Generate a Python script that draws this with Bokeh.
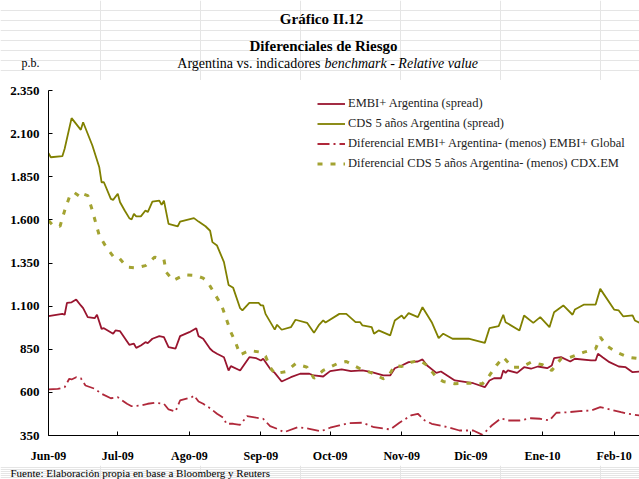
from datetime import date
from bokeh.plotting import figure
from bokeh.layouts import column
from bokeh.models import Label, Legend, LegendItem, FixedTicker, Range1d
from bokeh.embed import file_html
from bokeh.resources import INLINE

# ---------------- data (day offset from 1 Jun 2009, value in p.b.) ----------------
start = date(2009, 6, 1)

embi_days = [0, 6, 7, 8, 10, 12, 14, 15, 17, 20, 21, 23, 24, 28, 29, 31, 35, 37, 38, 40, 42, 43, 45, 48, 50, 52, 55, 57,
             61, 64, 65, 67, 70, 71, 73, 76, 78, 79, 83, 87, 90, 92, 93, 96, 98, 101, 105, 109, 113, 115, 119, 122, 127,
             131, 136, 140, 145, 148, 150, 153, 156, 160, 162, 164, 168, 170, 176, 181, 184, 189, 191, 193, 196, 197,
             198, 199, 203, 206, 209, 212, 216, 218, 219, 222, 226, 228, 235, 237, 238, 240, 243, 247, 250, 253, 256]
embi_vals = [1042, 1055, 1050, 1119, 1122, 1138, 1104, 1088, 1036, 1030, 1050, 968, 972, 940, 959, 955, 876, 882, 858,
             872, 891, 886, 911, 926, 920, 862, 853, 926, 949, 972, 926, 911, 853, 840, 824, 804, 727, 752, 727, 804,
             798, 785, 795, 737, 713, 663, 688, 708, 708, 698, 692, 723, 733, 723, 727, 717, 698, 698, 740, 756, 775,
             779, 791, 756, 713, 721, 669, 659, 653, 630, 669, 682, 682, 727, 713, 727, 713, 746, 737, 750, 740, 756,
             798, 804, 779, 795, 785, 785, 824, 804, 775, 750, 746, 717, 721]

cds_days = [0, 1, 6, 7, 10, 14, 15, 19, 22, 23, 24, 27, 28, 30, 31, 33, 35, 36, 37, 38, 40, 42, 43, 45, 48, 49, 50, 52,
            56, 57, 63, 65, 68, 70, 71, 73, 76, 78, 80, 83, 84, 87, 91, 92, 93, 94, 98, 99, 101, 105, 107, 112, 115,
            117, 119, 120, 126, 129, 133, 135, 136, 140, 141, 143, 148, 150, 153, 154, 156, 160, 162, 166, 169, 171,
            175, 182, 184, 189, 191, 195, 197, 198, 204, 206, 210, 213, 217, 219, 223, 227, 228, 232, 237, 239, 245,
            247, 249, 253, 254, 256]
cds_vals = [1986, 1963, 1969, 2012, 2190, 2122, 2166, 2031, 1905, 1818, 1818, 1722, 1716, 1751, 1702, 1654, 1610, 1602,
            1635, 1620, 1620, 1654, 1645, 1706, 1712, 1687, 1712, 1577, 1563, 1590, 1610, 1590, 1563, 1537, 1471, 1451,
            1355, 1223, 1206, 1088, 1075, 1119, 1119, 1104, 1104, 1055, 964, 992, 963, 978, 1021, 1003, 945, 988, 1017,
            1005, 1055, 1055, 1007, 1007, 988, 978, 940, 959, 930, 1017, 1046, 1027, 1059, 1036, 1094, 1007, 914, 940,
            911, 911, 905, 887, 972, 984, 1050, 1007, 959, 1046, 1003, 1036, 978, 1065, 1104, 1050, 1080, 1109, 1109,
            1200, 1080, 1075, 1040, 1046, 1017, 1003]

embi_diff_days = [0, 4, 7, 9, 10, 12, 14, 16, 20, 23, 27, 30, 34, 36, 40, 43, 46, 50, 52, 55, 57, 62, 63, 65, 67, 70,
                  73, 76, 77, 80, 83, 86, 90, 93, 96, 99, 102, 108, 113, 118, 122, 126, 130, 136, 141, 148, 152, 157,
                  160, 163, 166, 173, 178, 184, 188, 192, 196, 199, 204, 209, 213, 217, 220, 225, 230, 235, 239, 242,
                  248, 251, 256]
embi_diff_vals = [617, 620, 630, 679, 675, 688, 682, 640, 621, 592, 566, 572, 534, 520, 524, 534, 540, 534, 501, 489,
                  553, 572, 582, 547, 534, 508, 476, 450, 418, 418, 412, 462, 453, 447, 404, 389, 369, 398, 389, 375,
                  395, 408, 421, 424, 398, 385, 424, 466, 476, 437, 418, 398, 379, 379, 354, 408, 450, 437, 437, 450,
                  447, 437, 482, 485, 491, 495, 514, 505, 485, 476, 466]

cds_diff_days = [0, 2, 5, 7, 9, 11, 14, 15, 17, 19, 22, 25, 28, 30, 34, 38, 42, 46, 50, 51, 54, 59, 64, 67, 69, 72, 75,
                 77, 79, 81, 83, 87, 92, 94, 96, 98, 103, 107, 112, 115, 119, 125, 129, 135, 140, 145, 147, 150, 153,
                 157, 161, 164, 168, 171, 176, 182, 188, 191, 194, 197, 201, 205, 209, 214, 218, 222, 225, 232, 237,
                 239, 242, 246, 251, 256]
cds_diff_vals = [1596, 1567, 1563, 1654, 1731, 1760, 1731, 1751, 1741, 1654, 1509, 1442, 1389, 1389, 1326, 1322, 1335,
                 1384, 1370, 1297, 1249, 1282, 1277, 1262, 1239, 1171, 1104, 1027, 949, 891, 818, 843, 833, 810, 746,
                 708, 721, 766, 746, 682, 727, 766, 779, 737, 713, 679, 688, 756, 750, 775, 785, 756, 688, 663, 650,
                 653, 650, 698, 756, 804, 746, 746, 775, 760, 727, 795, 798, 833, 853, 920, 868, 833, 804, 795]

month_dates = [date(2009, 6, 1), date(2009, 7, 1), date(2009, 8, 1), date(2009, 9, 1), date(2009, 10, 1),
               date(2009, 11, 1), date(2009, 12, 1), date(2010, 1, 1), date(2010, 2, 1)]
month_labels = ["Jun-09", "Jul-09", "Ago-09", "Sep-09", "Oct-09", "Nov-09", "Dic-09", "Ene-10", "Feb-10"]
y_ticks = [350, 600, 850, 1100, 1350, 1600, 1850, 2100, 2350]

series_names = ["EMBI+ Argentina (spread)",
                "CDS 5 años Argentina (spread)",
                "Diferencial EMBI+ Argentina- (menos) EMBI+ Global",
                "Diferencial CDS 5 años Argentina- (menos) CDX.EM"]

# ---------------- styling ----------------
FONT = "Liberation Serif"
C_EMBI = "#99152F"
C_CDS = "#808000"
C_EMBI_D = "#B0283A"
C_CDS_D = "#A3A332"
W = 639


def no_align(f):
    try:
        f.frame_align = False
    except Exception:
        pass


def text_panel(h):
    f = figure(width=W, height=h, x_range=Range1d(0, W), y_range=Range1d(0, h),
               output_backend="svg", toolbar_location=None,
               x_axis_location=None, y_axis_location=None,
               min_border_left=0, min_border_right=0, min_border_top=0, min_border_bottom=0)
    f.outline_line_color = None
    f.background_fill_color = "white"
    f.border_fill_color = "white"
    no_align(f)
    return f


def lab(f, text, x, y, size, style="normal", align="left", color="black"):
    f.add_layout(Label(x=x, y=y, text=text, text_font=FONT, text_font_size=size,
                       text_font_style=style, text_align=align, text_baseline="middle",
                       text_color=color))


# header (80 px): y measured from the panel's bottom
header = text_panel(80)
lab(header, "Gráfico II.12", 321, 62, "15px", "bold", "center")
lab(header, "Diferenciales de Riesgo", 323, 35, "15px", "bold", "center")
lab(header, "p.b.", 21, 18, "12px")
lab(header, "Argentina vs. indicadores", 320, 17, "14px", "normal", "right")
lab(header, "benchmark - Relative value", 324, 17, "14px", "italic", "left")

# main chart
p = figure(width=W, height=385, output_backend="svg", toolbar_location=None,
           x_range=Range1d(0, 256), y_range=Range1d(350, 2350),
           min_border_left=48, min_border_right=0, min_border_top=10, min_border_bottom=30)
p.outline_line_color = None
p.xgrid.visible = False
p.ygrid.visible = False
p.background_fill_color = "white"
p.border_fill_color = "white"
no_align(p)

r1 = p.line(embi_days, embi_vals, line_color=C_EMBI, line_width=1.8)
r2 = p.line(cds_days, cds_vals, line_color=C_CDS, line_width=1.8)
r3 = p.line(embi_diff_days, embi_diff_vals, line_color=C_EMBI_D, line_width=1.8, line_dash="12 4 2 4")
r4 = p.line(cds_diff_days, cds_diff_vals, line_color=C_CDS_D, line_width=3, line_dash="5 8")

tick_days = [(d - start).days for d in month_dates]
p.xaxis.ticker = FixedTicker(ticks=tick_days)
p.xaxis.major_label_overrides = {t: l for t, l in zip(tick_days, month_labels)}
p.yaxis.ticker = FixedTicker(ticks=y_ticks)
p.yaxis.major_label_overrides = {v: f"{v:,}".replace(",", ".") for v in y_ticks}
for ax in (p.xaxis[0], p.yaxis[0]):
    ax.axis_line_color = "black"
    ax.axis_line_width = 1
    ax.major_tick_in = 4
    ax.major_tick_out = 0
    ax.minor_tick_line_color = None
    ax.major_tick_line_color = "black"
    ax.major_label_text_font = FONT
    ax.major_label_text_font_style = "bold"
    ax.major_label_text_color = "black"
p.xaxis.major_label_text_font_size = "12px"
p.yaxis.major_label_text_font_size = "13px"
p.xaxis.major_label_standoff = 13
p.yaxis.major_label_standoff = 9

legend = Legend(items=[LegendItem(label=n, renderers=[r]) for n, r in zip(series_names, [r1, r2, r3, r4])],
                location=(269, 262))
legend.border_line_color = None
legend.background_fill_alpha = 0
legend.padding = 0
legend.margin = 0
legend.spacing = 1
legend.glyph_width = 28
legend.glyph_height = 19
legend.label_height = 19
legend.label_standoff = 3
legend.label_text_font = FONT
legend.label_text_font_size = "12.5px"
legend.label_text_color = "#222222"
p.add_layout(legend)

# footer (14 px)
footer = text_panel(14)
lab(footer, "Fuente: Elaboración propia en base a Bloomberg y Reuters", 10, 7, "11px")

layout = column(header, p, footer, spacing=0)
open("out.html", "w").write(file_html(layout, INLINE))
